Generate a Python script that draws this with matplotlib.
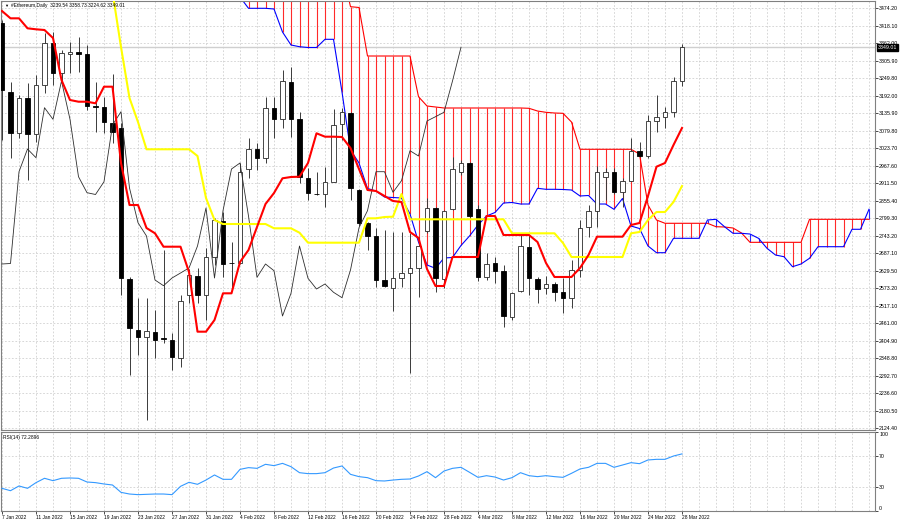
import numpy as np
import matplotlib
matplotlib.use("Agg")
import matplotlib.pyplot as plt

plt.rcParams['font.family'] = ['Liberation Sans', 'DejaVu Sans']

# ---------------- data ----------------
symbol_title = "#Ethereum,Daily  3239.54 3358.73 3224.62 3349.01"
rsi_title = "RSI(14) 72.2896"
last_price = 3349.01

date_labels = ['7 Jan 2022', '11 Jan 2022', '15 Jan 2022', '19 Jan 2022', '23 Jan 2022',
               '27 Jan 2022', '31 Jan 2022', '4 Feb 2022', '8 Feb 2022', '12 Feb 2022',
               '16 Feb 2022', '20 Feb 2022', '24 Feb 2022', '28 Feb 2022', '4 Mar 2022',
               '8 Mar 2022', '12 Mar 2022', '16 Mar 2022', '20 Mar 2022', '24 Mar 2022',
               '28 Mar 2022']
date_label_bars = [0, 4, 8, 12, 16, 20, 24, 28, 32, 36, 40, 44, 48, 52, 56, 60, 64, 68, 72, 76, 80]

price_ticks = [3474.20, 3418.10, 3362.00, 3305.90, 3249.80, 3192.00, 3135.90, 3079.80,
               3023.70, 2967.60, 2911.50, 2855.40, 2799.30, 2743.20, 2687.10, 2629.50,
               2573.20, 2517.10, 2461.00, 2404.90, 2348.80, 2292.70, 2236.60, 2180.50, 2124.40]
rsi_ticks = [0, 30, 70, 100]

opens = [3426.9, 3205.0, 3073.2, 3185.7, 3070.0, 3227.5, 3362.6, 3266.1, 3327.2, 3332.1,
         3327.2, 3160.0, 3156.8, 3105.3, 3089.3, 2603.6, 2439.6, 2417.1, 2433.2, 2413.9,
         2407.5, 2349.6, 2552.2, 2613.3, 2552.2, 2674.4, 2790.2, 2655.1, 2654.1, 2957.4,
         3021.7, 2991.8, 3154.5, 3117.2, 3238.2, 3117.2, 2927.5, 2877.0, 2877.0, 2916.5,
         3102.1, 3137.5, 2889.9, 2783.7, 2741.9, 2600.4, 2574.7, 2606.8, 2622.9, 2639.0,
         2759.0, 2832.0, 2603.6, 2827.8, 2948.7, 2975.7, 2828.8, 2609.1, 2654.1, 2629.4,
         2482.4, 2566.0, 2707.5, 2603.6, 2575.7, 2587.6, 2560.9, 2543.5, 2632.6, 2769.9,
         2823.3, 2932.6, 2948.7, 2882.5, 2919.8, 3016.2, 2999.2, 3111.8, 3123.7, 3139.8,
         3239.54]
highs = [3436.6, 3237.2, 3195.4, 3234.0, 3259.7, 3394.8, 3398.0, 3340.1, 3365.8, 3381.9,
         3356.2, 3237.2, 3189.0, 3262.9, 3105.3, 2610.1, 2542.5, 2542.5, 2503.9, 2696.9,
         2430.0, 2552.2, 2635.8, 2639.0, 2703.3, 2799.8, 2819.1, 2722.6, 2976.7, 3057.1,
         3041.0, 3189.9, 3189.9, 3275.8, 3286.4, 3141.7, 2960.6, 2947.7, 2964.8, 3150.4,
         3153.6, 3141.7, 2893.1, 2787.0, 2767.6, 2761.2, 2755.8, 2755.8, 2751.6, 2739.7,
         2864.1, 2835.2, 2825.5, 2996.0, 2986.3, 2979.9, 2841.6, 2686.3, 2675.3, 2648.7,
         2562.8, 2745.1, 2745.1, 2611.0, 2613.3, 2595.0, 2605.9, 2664.7, 2793.4, 2841.6,
         2967.0, 2960.6, 2960.6, 2928.4, 3056.1, 3045.2, 3131.1, 3195.4, 3156.8, 3254.2,
         3358.73]
lows = [3050.7, 2992.8, 3057.1, 2922.0, 3044.2, 3201.8, 3227.5, 3234.0, 3266.1, 3269.3,
        3147.1, 3076.4, 3073.2, 3041.0, 2552.2, 2294.9, 2359.2, 2150.2, 2349.6, 2397.8,
        2311.0, 2320.6, 2526.5, 2526.5, 2471.8, 2648.7, 2610.1, 2568.3, 2651.9, 2928.5,
        2954.2, 2976.7, 3057.1, 3089.3, 3061.3, 2912.4, 2857.7, 2873.8, 2836.2, 2915.6,
        3050.7, 2857.7, 2774.1, 2696.9, 2577.9, 2578.9, 2501.7, 2578.9, 2301.3, 2546.7,
        2751.6, 2562.8, 2574.7, 2825.5, 2938.1, 2799.8, 2598.2, 2600.4, 2589.8, 2448.3,
        2471.8, 2562.8, 2552.2, 2525.5, 2555.4, 2533.8, 2495.3, 2509.4, 2610.1, 2737.7,
        2771.8, 2857.7, 2877.0, 2836.2, 2917.2, 2996.0, 2991.8, 3077.4, 3088.3, 3125.6,
        3224.62]
closes = [3211.5, 3073.2, 3185.7, 3070.0, 3227.5, 3362.6, 3266.1, 3330.5, 3333.7, 3327.2,
          3160.0, 3156.8, 3108.5, 3076.4, 2606.8, 2446.0, 2417.1, 2436.4, 2407.5, 2410.7,
          2352.8, 2532.9, 2616.5, 2552.2, 2674.4, 2793.4, 2651.9, 2653.5, 2948.7, 3021.7,
          2993.7, 3154.5, 3117.2, 3240.4, 3117.2, 2932.6, 2881.2, 2875.4, 2916.5, 3098.9,
          3141.7, 2896.3, 2784.7, 2741.9, 2600.4, 2582.1, 2606.8, 2622.9, 2639.0, 2709.8,
          2832.0, 2606.8, 2823.3, 2957.4, 2976.7, 2806.2, 2609.1, 2651.9, 2630.3, 2484.6,
          2557.6, 2709.8, 2605.9, 2571.5, 2587.6, 2560.9, 2543.5, 2632.6, 2768.6, 2823.3,
          2948.7, 2948.7, 2882.5, 2919.8, 3016.2, 2999.2, 3111.8, 3125.6, 3139.8, 3240.4,
          3349.01]

tenkan = [3465.5, 3442.0, 3442.0, 3409.9, 3406.7, 3404.4, 3378.7, 3243.6, 3179.3, 3173.8,
          3173.8, 3168.7, 3222.1, 3222.1, 2976.7, 2841.6, 2841.6, 2767.6, 2750.6, 2707.5,
          2707.5, 2707.5, 2626.1, 2434.2, 2434.2, 2471.8, 2557.6, 2557.6, 2658.3, 2696.9,
          2770.9, 2844.8, 2880.2, 2927.5, 2931.7, 2932.6, 2976.7, 3072.2, 3061.3, 3061.3,
          3060.3, 3024.9, 2957.4, 2889.9, 2886.6, 2870.6, 2854.5, 2851.3, 2754.8, 2735.5,
          2635.8, 2581.1, 2581.1, 2674.4, 2674.4, 2674.4, 2674.4, 2806.2, 2806.2, 2745.1,
          2745.1, 2745.1, 2745.1, 2722.6, 2655.1, 2610.1, 2610.1, 2610.1, 2639.0, 2680.8,
          2739.7, 2739.7, 2739.7, 2739.7, 2777.3, 2783.7, 2870.6, 2964.8, 2976.7, 3034.6,
          3089.3]
kijun = [3578.1, 3578.1, 3578.1, 3539.5, 3539.5, 3539.5, 3565.2, 3552.4, 3533.1, 3526.6,
         3523.4, 3526.6, 3526.6, 3526.6, 3349.7, 3185.7, 3108.5, 3020.8, 3020.8, 3020.8,
         3020.8, 3020.8, 3020.8, 2999.2, 2864.1, 2793.4, 2780.5, 2780.5, 2780.5, 2780.5,
         2780.5, 2780.5, 2766.7, 2766.7, 2766.7, 2752.5, 2720.4, 2720.4, 2720.4, 2720.4,
         2720.4, 2720.4, 2720.4, 2798.8, 2798.8, 2803.0, 2804.0, 2877.0, 2795.6, 2795.6,
         2795.6, 2795.6, 2795.6, 2795.6, 2795.6, 2795.6, 2795.6, 2795.6, 2795.6, 2795.6,
         2750.6, 2750.6, 2750.6, 2750.6, 2750.6, 2750.6, 2719.4, 2674.4, 2674.4, 2674.4,
         2674.4, 2674.4, 2674.4, 2674.4, 2750.6, 2754.8, 2793.4, 2819.1, 2819.1, 2851.3,
         2902.7]
# Senkou span A / B (already shifted 26 bars forward), bars 0..102
span_a = [4190, 4175, 4160, 4120, 4105, 4080, 4070, 4040, 3990, 3975,
          3960, 3930, 3915, 3900, 3870, 3830, 3810, 3760, 3745, 3720,
          3690, 3650, 3630, 3610, 3575, 3550, 3522, 3510,
          3510.5, 3474.2, 3474.2, 3474.2, 3472.0, 3398.0, 3356.2, 3350.7, 3348.1, 3348.1,
          3374.5, 3374.5, 3205.0, 3018.5, 2976.7, 2894.7, 2886.6, 2867.3, 2865.7, 2864.1,
          2812.7, 2722.6, 2648.7, 2638.0, 2671.2, 2672.8, 2711.4, 2741.9, 2777.3, 2806.2,
          2817.5, 2848.0, 2849.7, 2844.8, 2844.8, 2895.3, 2892.1, 2892.1, 2891.5, 2889.9,
          2870.6, 2872.2, 2844.8, 2844.8, 2827.8, 2862.5, 2774.1, 2766.0, 2709.8, 2688.2,
          2688.2, 2734.5, 2734.5, 2734.5, 2734.5, 2793.4, 2795.6, 2771.8, 2750.6, 2750.6,
          2748.3, 2734.5, 2702.4, 2680.8, 2675.3, 2643.2, 2651.9, 2670.2, 2707.5, 2707.5,
          2707.5, 2707.5, 2763.5, 2763.5, 2827.8]
span_b = [4290, 4290, 4290, 4280, 4280, 4270, 4270, 4260, 4260, 4250,
          4250, 4240, 4240, 4230, 4220, 4220, 4200, 4190, 4180, 4170,
          4150, 4130, 4120, 4100, 4080, 4060, 4040, 4020, 4000, 3980,
          3960, 3940, 3910, 3880, 3850, 3820, 3780, 3740, 3700, 3650,
          3600, 3479.4, 3476.8, 3320.8, 3320.8, 3320.8, 3320.8, 3320.8, 3320.8, 3189.9,
          3160.0, 3156.8, 3153.6, 3153.6, 3153.6, 3153.6, 3153.6, 3153.6, 3153.6, 3153.6,
          3153.6, 3153.6, 3152.6, 3143.9, 3139.7, 3137.5, 3136.5, 3108.5, 3020.8, 3020.8,
          3020.8, 3020.8, 3020.8, 3020.8, 3020.8, 3005.6, 2841.6, 2793.4, 2782.8, 2782.8,
          2782.8, 2782.8, 2782.8, 2782.8, 2771.8, 2770.9, 2767.6, 2751.6, 2721.6, 2721.6,
          2721.6, 2721.6, 2721.6, 2721.6, 2721.6, 2795.6, 2795.6, 2795.6, 2795.6, 2795.6,
          2795.6, 2795.6, 2795.6]

rsi = [28.7, 25.7, 31.7, 28.7, 35.9, 41.4, 38.4, 41.4, 41.8, 41.4,
       36.7, 35.9, 34.2, 32.9, 23.6, 21.5, 20.7, 21.1, 21.5, 21.5,
       20.7, 31.2, 36.3, 33.8, 39.2, 45.6, 40.1, 40.1, 52.7, 54.9,
       54.0, 59.1, 57.4, 60.3, 56.1, 48.5, 47.3, 47.3, 48.5, 54.4,
       57.0, 46.4, 43.5, 42.2, 38.4, 38.0, 39.2, 40.1, 40.5, 44.3,
       49.8, 42.2, 50.6, 54.0, 55.3, 49.0, 42.6, 44.7, 43.0, 39.2,
       42.2, 48.5, 44.7, 43.5, 44.7, 43.5, 42.6, 47.7, 53.2, 55.3,
       60.3, 60.3, 55.3, 58.2, 61.2, 59.9, 64.6, 65.4, 65.4, 69.6,
       72.29]
chikou_shift = 26

# ---------------- layout ----------------
W, H = 900, 523
fig = plt.figure(figsize=(W / 100, H / 100), dpi=100)
fig.patch.set_facecolor('white')

L_PX, R_PX = 1, 875
M_TOP, M_BOT = 1, 430
R_TOP, R_BOT = 432, 511
ax = fig.add_axes([L_PX / W, 1 - M_BOT / H, (R_PX - L_PX) / W, (M_BOT - M_TOP) / H])
rax = fig.add_axes([L_PX / W, 1 - R_BOT / H, (R_PX - L_PX) / W, (R_BOT - R_TOP) / H])

bar_px, first_bar_px = 8.5, 2.0
xlim = ((L_PX - first_bar_px) / bar_px, (R_PX - first_bar_px) / bar_px)

FS = 3.5
grid_kw = dict(color='#c8c8c8', lw=0.5, ls=(0, (2.5, 2.5)), zorder=0)
for a in (ax, rax):
    for gx in range(0, 104, 2):
        a.axvline(gx, **grid_kw)
for p in price_ticks:
    ax.axhline(p, **grid_kw)
for r in (30, 70):
    rax.axhline(r, **grid_kw)

# bid line
ax.axhline(last_price, color='#cfcfcf', lw=1.0, zorder=0.5)

# cloud
sa = np.array(span_a, dtype=float)
sb = np.array(span_b, dtype=float)
xs = np.arange(len(sa))
up = sb >= sa
ax.vlines(xs[up], sa[up], sb[up], color='#ff2a2a', lw=0.8, zorder=1)
ax.vlines(xs[~up], sb[~up], sa[~up], color='#2a2aff', lw=0.8, zorder=1)
ax.plot(xs, sb, color='#ff0000', lw=0.8, zorder=2)
ax.plot(xs, sa, color='#0000ff', lw=0.8, zorder=2)

# candles
o = np.array(opens); h = np.array(highs); l = np.array(lows); c = np.array(closes)
x = np.arange(len(o))
bull = c >= o
ax.vlines(x, l, h, color='#3a3a3a', lw=0.7, zorder=3)
bottom = np.minimum(o, c)
height = np.maximum(np.abs(c - o), 1.5)
ax.bar(x[bull], height[bull], bottom=bottom[bull], width=0.58, facecolor='white',
       edgecolor='#2a2a2a', lw=0.6, zorder=4)
ax.bar(x[~bull], height[~bull], bottom=bottom[~bull], width=0.58, facecolor='black',
       edgecolor='black', lw=0.6, zorder=4)

# chikou, tenkan, kijun
ax.plot(x[:len(c) - chikou_shift], c[chikou_shift:], color='#2e2e2e', lw=0.6, zorder=5)
ax.plot(x, kijun, color='#ffff00', lw=1.5, zorder=6)
ax.plot(x, tenkan, color='#ff0000', lw=1.5, zorder=6)

ax.set_xlim(xlim)
ax.set_ylim(2118.0, 3497.7)
ax.set_xticks([])
ax.yaxis.tick_right()
ax.set_yticks(price_ticks)
ax.set_yticklabels([f'{p:.2f}' for p in price_ticks], fontsize=FS + 0.3)
ax.tick_params(axis='y', length=2, width=0.5, pad=1, colors='#000000')

ax.text(1.0 + 3 / 874, last_price, f'{last_price:.2f}', transform=ax.get_yaxis_transform(),
        fontsize=FS + 0.3, color='white', va='center', ha='left', zorder=10, clip_on=False,
        bbox=dict(boxstyle='square,pad=0.15', fc='black', ec='black'))

# RSI
rax.plot(np.arange(len(rsi)), rsi, color='#3399ff', lw=0.8, zorder=3)
rax.set_xlim(xlim)
rax.set_ylim(0, 100)
rax.yaxis.tick_right()
rax.set_yticks(rsi_ticks)
rax.set_yticklabels([str(t) for t in rsi_ticks], fontsize=FS + 0.3)
labs = rax.get_yticklabels()
labs[0].set_va('bottom')
labs[-1].set_va('top')
rax.tick_params(axis='y', length=2, width=0.5, pad=1)
rax.set_xticks(date_label_bars)
rax.set_xticklabels(date_labels, fontsize=FS, ha='left')
rax.tick_params(axis='x', length=2, width=0.5, pad=1.2)

for a in (ax, rax):
    for s in a.spines.values():
        s.set_color('#808080')
        s.set_linewidth(0.8)

fig.text(4 / W, 1 - 5.5 / H, '\u25bc', fontsize=FS - 0.5, va='center', ha='left')
fig.text(11 / W, 1 - 5.5 / H, symbol_title, fontsize=FS, va='center', ha='left')
fig.text(3 / W, 1 - 437.5 / H, rsi_title, fontsize=FS, va='center', ha='left')

fig.savefig('out.png', dpi=100, facecolor='white')
